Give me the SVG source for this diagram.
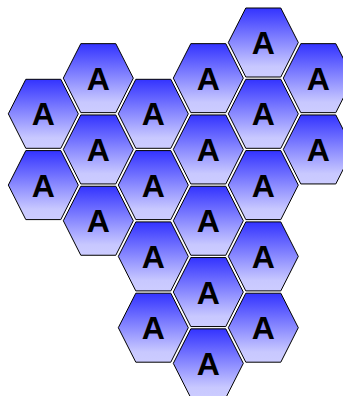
<svg xmlns="http://www.w3.org/2000/svg" width="343" height="396" viewBox="0 0 343 396">
<defs>
<linearGradient id="g" x1="0" y1="0" x2="0" y2="1">
<stop offset="0" stop-color="#3333ff"/>
<stop offset="0.85" stop-color="#c8c8ff"/>
<stop offset="1" stop-color="#ccccff"/>
</linearGradient>
<path id="hex" d="M-17.5,-34.5 L17.5,-34.5 L35,0 L17.5,34.5 L-17.5,34.5 L-35,0 Z" fill="url(#g)" stroke="#000" stroke-width="1"/>
</defs>
<style>
text{font-family:"Liberation Sans",Arial,sans-serif;font-weight:700;font-size:32px;fill:#000;text-anchor:middle}
</style>
<rect width="343" height="396" fill="#fff"/>
<g id="n0_2" transform="translate(43.3,113.8)"><use href="#hex"/><text y="11.5">A</text></g>
<g id="n0_4" transform="translate(43.3,185.1)"><use href="#hex"/><text y="11.5">A</text></g>
<g id="n1_1" transform="translate(98.3,78.15)"><use href="#hex"/><text y="11.5">A</text></g>
<g id="n1_3" transform="translate(98.3,149.45)"><use href="#hex"/><text y="11.5">A</text></g>
<g id="n1_5" transform="translate(98.3,220.75)"><use href="#hex"/><text y="11.5">A</text></g>
<g id="n2_2" transform="translate(153.3,113.8)"><use href="#hex"/><text y="11.5">A</text></g>
<g id="n2_4" transform="translate(153.3,185.1)"><use href="#hex"/><text y="11.5">A</text></g>
<g id="n2_6" transform="translate(153.3,256.4)"><use href="#hex"/><text y="11.5">A</text></g>
<g id="n2_8" transform="translate(153.3,327.7)"><use href="#hex"/><text y="11.5">A</text></g>
<g id="n3_1" transform="translate(208.3,78.15)"><use href="#hex"/><text y="11.5">A</text></g>
<g id="n3_3" transform="translate(208.3,149.45)"><use href="#hex"/><text y="11.5">A</text></g>
<g id="n3_5" transform="translate(208.3,220.75)"><use href="#hex"/><text y="11.5">A</text></g>
<g id="n3_7" transform="translate(208.3,292.05)"><use href="#hex"/><text y="11.5">A</text></g>
<g id="n3_9" transform="translate(208.3,363.35)"><use href="#hex"/><text y="11.5">A</text></g>
<g id="n4_0" transform="translate(263.3,42.5)"><use href="#hex"/><text y="11.5">A</text></g>
<g id="n4_2" transform="translate(263.3,113.8)"><use href="#hex"/><text y="11.5">A</text></g>
<g id="n4_4" transform="translate(263.3,185.1)"><use href="#hex"/><text y="11.5">A</text></g>
<g id="n4_6" transform="translate(263.3,256.4)"><use href="#hex"/><text y="11.5">A</text></g>
<g id="n4_8" transform="translate(263.3,327.7)"><use href="#hex"/><text y="11.5">A</text></g>
<g id="n5_1" transform="translate(318.3,78.15)"><use href="#hex"/><text y="11.5">A</text></g>
<g id="n5_3" transform="translate(318.3,149.45)"><use href="#hex"/><text y="11.5">A</text></g>
<g id="connectors"/>
</svg>
